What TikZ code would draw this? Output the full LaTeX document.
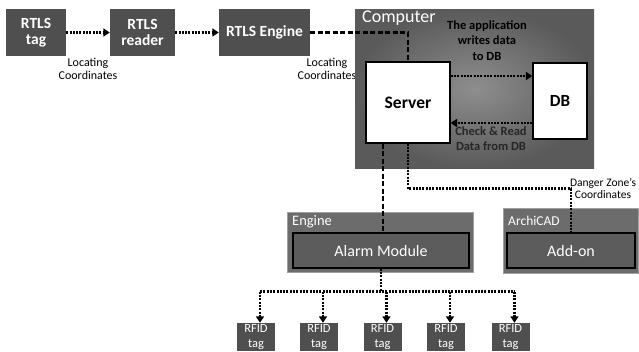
\documentclass[tikz,border=0pt]{standalone}
\usepackage{fontspec}
\setmainfont{Carlito}
\usetikzlibrary{arrows.meta}
\definecolor{boxgray}{HTML}{4F4F4F}
\definecolor{outergray}{HTML}{6C6C6C}
\definecolor{outeredge}{HTML}{A0A0A0}
\definecolor{innergray}{HTML}{5C5C5C}
\definecolor{compin}{HTML}{8E8E8E}
\definecolor{compout}{HTML}{5A5A5A}
\begin{document}
\begin{tikzpicture}[x=1pt,y=-1pt,
  darkbox/.style={fill=boxgray, text=white, inner sep=0pt, align=center,
    font=\bfseries\fontsize{15.5}{16}\selectfont},
  rfid/.style={fill=boxgray, text=white, inner sep=0pt, align=center,
    minimum width=38pt, minimum height=28pt,
    font=\fontsize{12.5}{14.5}\selectfont},
  outerbox/.style={fill=outergray, draw=outeredge, line width=0.8pt, inner sep=0pt},
  innerbox/.style={fill=innergray, draw=black, line width=1.4pt, inner sep=0pt,
    text=white, font=\fontsize{16}{18}\selectfont},
  whitebox/.style={fill=white, draw=black, line width=1.2pt, inner sep=0pt,
    font=\bfseries\fontsize{17.5}{18}\selectfont},
  lbl/.style={align=center, inner sep=0pt, font=\fontsize{12}{12.5}\selectfont},
  blbl/.style={align=center, inner sep=0pt, font=\bfseries\fontsize{12.5}{15.5}\selectfont},
  title/.style={text=white, inner sep=0pt, anchor=west},
  dotline/.style={line width=2.7pt, dash pattern=on 2pt off 1.3pt},
  dotarrow/.style={dotline, -{Triangle[length=6.5pt,width=8pt]}},
  dashline/.style={line width=2.8pt, dash pattern=on 5pt off 2.5pt}]
\useasboundingbox (0,0) rectangle (639,351);

% RTLS chain
\node[darkbox, minimum width=60pt, minimum height=47pt] (tag) at (36,32.5) {RTLS\\tag};
\node[darkbox, minimum width=65pt, minimum height=47pt] (reader) at (142.5,32.5) {RTLS\\reader};
\node[darkbox, minimum width=91pt, minimum height=47pt] (rengine) at (264.5,32.5) {RTLS Engine};

\node[lbl] (loc1) at (88,69) {Locating\\Coordinates};
\node[lbl] (loc2) at (327,69) {Locating\\Coordinates};

% computer with server and database
\node[inner sep=0pt, minimum width=239pt, minimum height=159pt,
  inner color=compin, outer color=compout] (computer) at (474.5,88.5) {};
\node[title, font=\fontsize{18}{19}\selectfont] (comptitle) at (362,18) {Computer};
\node[whitebox, minimum width=84pt, minimum height=81pt] (server) at (408,102.5) {Server};
\node[whitebox, minimum width=54pt, minimum height=76pt, font=\bfseries\fontsize{17}{18}\selectfont] (db) at (560,101) {DB};
\node[blbl] (writes) at (487,40.5) {The application\\writes data\\to DB};
\node[blbl, text=black!85] (reads) at (491,138.5) {Check \& Read\\Data from DB};

% engine with alarm module
\node[outerbox, minimum width=186pt, minimum height=60pt] (engine) at (380,242) {};
\node[title, font=\fontsize{14.5}{16}\selectfont] (enginetitle) at (292,222) {Engine};
\node[innerbox, minimum width=176pt, minimum height=35pt] (alarm) at (381,250.5) {Alarm Module};

% ArchiCAD with add-on
\node[outerbox, minimum width=135pt, minimum height=65pt] (archicad) at (570.5,240.5) {};
\node[title, font=\fontsize{13.5}{15}\selectfont] (archititle) at (508,221) {ArchiCAD};
\node[innerbox, minimum width=128pt, minimum height=35pt] (addon) at (571,250.5) {Add-on};
\node[lbl, font=\fontsize{11.5}{12}\selectfont] (danger) at (603,188) {Danger Zone's\\Coordinates};

% RFID tags
\node[rfid] (t1) at (256,337) {RFID\\tag};
\node[rfid] (t2) at (319,337) {RFID\\tag};
\node[rfid] (t3) at (382.5,337) {RFID\\tag};
\node[rfid] (t4) at (446,337) {RFID\\tag};
\node[rfid] (t5) at (510.5,337) {RFID\\tag};

% connectors
\draw[dotarrow] (tag.east) -- (reader.west);
\draw[dotarrow] (reader.east) -- (rengine.west);
\draw[dashline] (rengine.east) -| (server.north);
\draw[dotarrow] ([yshift=26.5pt]server.east) -- ([yshift=26.5pt]server.east -| db.west);
\draw[dotarrow] ([yshift=-20.5pt]server.east -| db.west) -- ([yshift=-20.5pt]server.east);
\draw[dashline] ([xshift=-25pt]server.south) -- ([xshift=-25pt]server.south |- alarm.north);
\draw[dotline] (server.south) -- ++(0,45) -| (addon.north);
\draw[dotline] (alarm.south) -- ++(0,23) coordinate (hub);
\draw[dotline] ([xshift=4pt]t1.north |- hub) -- ([xshift=4pt]t5.north |- hub);
\foreach \t in {t1,t2,t3,t4,t5}
  \draw[dotarrow] ([xshift=4pt]\t.north |- hub) -- ([xshift=4pt]\t.north);
\end{tikzpicture}
\end{document}
